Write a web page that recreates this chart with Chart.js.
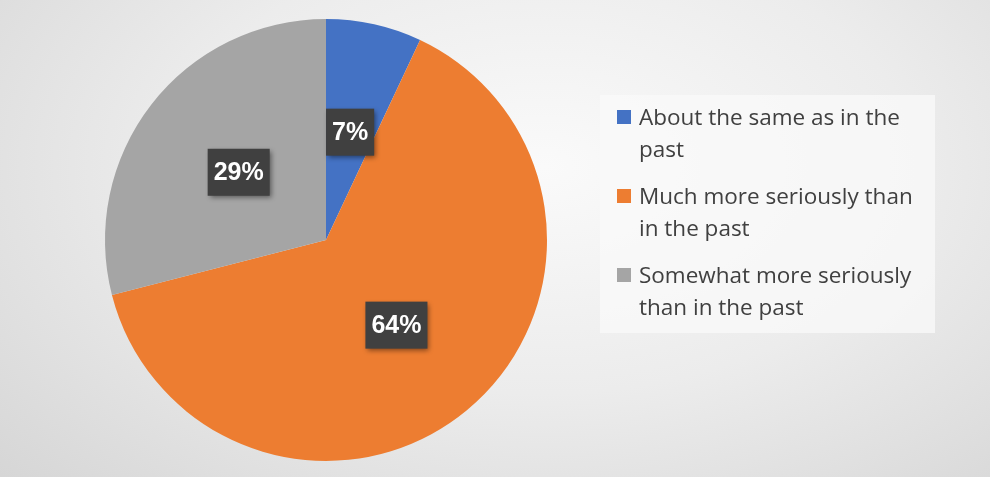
<!DOCTYPE html>
<html>
<head>
<meta charset="utf-8">
<script src="https://cdn.jsdelivr.net/npm/chart.js@4"></script>
<style>
    html, body {
        margin: 0;
        padding: 0;
    }
    body {
        width: 990px;
        height: 477px;
        overflow: hidden;
        background: radial-gradient(ellipse 75% 95% at 55% 35%, #fafafa 0%, #ececec 50%, #d6d6d6 100%);
        position: relative;
    }
    #wrap {
        position: absolute;
        left: 0;
        top: 0;
        width: 990px;
        height: 477px;
    }
    #legend {
        position: absolute;
        left: 600px;
        top: 95px;
        width: 335px;
        height: 238px;
        background: rgba(250, 250, 250, 0.75);
        box-sizing: border-box;
        padding: 6px 0 0 17px;
        font-family: "Open Sans", sans-serif;
        font-size: 22.5px;
        line-height: 32px;
        color: #404040;
        white-space: nowrap;
    }
    .item {
        position: relative;
        padding-left: 22px;
        margin-bottom: 15px;
    }
    .swatch {
        position: absolute;
        left: 0;
        top: 9px;
        width: 14px;
        height: 14px;
    }
</style>
</head>
<body>
<div id="wrap"><canvas id="chart" width="990" height="477"></canvas></div>
<div id="legend"></div>
<script>
const categories = [
    "About the same as in the past",
    "Much more seriously than in the past",
    "Somewhat more seriously than in the past",
];
// line breaks as they appear in the legend
const legendLines = [
    ["About the same as in the", "past"],
    ["Much more seriously than", "in the past"],
    ["Somewhat more seriously", "than in the past"],
];
const shares = [7, 64, 29];
const colors = ["#4472C4", "#ED7D31", "#A5A5A5"];

// dark boxed percentage labels at each slice's centroid
const boxLabels = {
    id: "boxLabels",
    afterDatasetsDraw(chart) {
        const ctx = chart.ctx;
        const meta = chart.getDatasetMeta(0);
        ctx.save();
        ctx.font = "bold 25px 'Liberation Sans', Arial, sans-serif";
        ctx.textAlign = "center";
        ctx.textBaseline = "middle";
        meta.data.forEach((arc, i) => {
            const pos = arc.tooltipPosition();
            const text = shares[i] + "%";
            const w = ctx.measureText(text).width + 12;
            const h = 47;
            ctx.shadowColor = "rgba(0, 0, 0, 0.45)";
            ctx.shadowBlur = 5;
            ctx.shadowOffsetX = 2;
            ctx.shadowOffsetY = 2;
            ctx.fillStyle = "#404040";
            ctx.fillRect(pos.x - w / 2, pos.y - h / 2, w, h);
            ctx.shadowColor = "transparent";
            ctx.fillStyle = "#ffffff";
            ctx.fillText(text, pos.x, pos.y + 1);
        });
        ctx.restore();
    },
};

new Chart(document.getElementById("chart"), {
    type: "pie",
    data: {
        labels: categories,
        datasets: [
            {
                data: shares,
                backgroundColor: colors,
                borderWidth: 0,
            },
        ],
    },
    options: {
        responsive: false,
        animation: false,
        layout: {
            padding: { left: 105, right: 443, top: 19, bottom: 16 },
        },
        plugins: {
            legend: { display: false },
            tooltip: { enabled: false },
        },
    },
    plugins: [boxLabels],
});

const legend = document.getElementById("legend");
categories.forEach((name, i) => {
    const item = document.createElement("div");
    item.className = "item";
    const sw = document.createElement("span");
    sw.className = "swatch";
    sw.style.background = colors[i];
    item.appendChild(sw);
    legendLines[i].forEach((line) => {
        const d = document.createElement("div");
        d.textContent = line;
        item.appendChild(d);
    });
    legend.appendChild(item);
});
</script>
</body>
</html>
